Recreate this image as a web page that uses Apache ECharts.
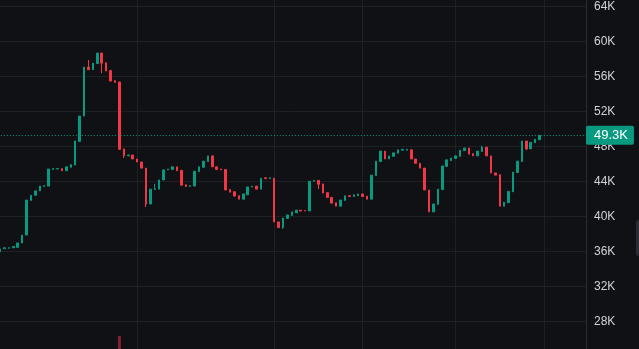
<!DOCTYPE html>
<html>
<head>
<meta charset="utf-8">
<style>
html,body{margin:0;padding:0;background:#101114;}
#chart{width:639px;height:349px;}
</style>
<script src="https://cdn.jsdelivr.net/npm/echarts@6/dist/echarts.min.js"></script>
</head>
<body>
<div id="chart"></div>
<script>
// Candles in thousands (K): open, close; optional low/high wicks listed separately
const opens = [
36.0,36.35,36.4,36.45,36.5,37.0,37.9,41.85,42.45,42.95,
43.45,43.5,45.4,45.45,45.5,45.25,45.65,45.9,48.6,51.5,
57.1,56.8,57.5,58.7,57.6,56.7,55.55,55.4,47.75,46.95,
47.05,46.6,46.25,45.55,41.45,43.1,43.15,44.2,45.35,45.4,
45.7,45.3,43.65,43.45,43.5,45.15,45.65,46.3,46.95,45.7,
45.45,45.4,43.1,42.85,42.4,42.0,42.5,43.4,43.5,43.15,
44.45,44.35,44.4,39.4,38.75,39.8,40.15,40.45,40.75,40.7,
40.65,44.05,44.15,43.75,42.75,42.2,41.6,41.2,41.85,42.4,
42.3,42.4,42.6,42.35,42.0,44.7,46.3,47.5,46.6,46.9,
47.25,47.6,47.6,47.65,46.6,46.1,45.55,43.05,40.55,41.4,
43.1,45.75,46.4,46.65,46.9,47.55,47.85,47.2,46.95,47.45,
47.95,46.95,45.0,44.8,41.2,41.6,42.85,45.05,46.3,48.65,
47.75,48.45,48.8];
const closes = [
36.3,36.45,36.45,36.6,37.0,37.9,41.9,42.45,42.95,43.5,
43.55,45.45,45.5,45.5,45.25,45.7,45.95,48.65,51.5,57.1,
56.8,57.55,58.7,57.55,56.65,55.5,55.35,47.7,46.95,47.05,
46.6,46.25,45.55,41.45,43.15,43.2,44.2,45.35,45.45,45.7,
45.25,43.6,43.45,43.55,45.2,45.7,46.35,46.95,45.7,45.4,
45.35,43.05,42.8,42.35,42.0,42.6,43.4,43.5,43.15,44.4,
44.35,44.45,39.4,38.75,39.85,40.2,40.55,40.75,40.65,40.65,
44.05,44.15,43.7,42.7,42.2,41.55,41.2,41.9,42.4,42.3,
42.5,42.6,42.3,42.0,44.75,46.35,47.5,46.6,46.95,47.3,
47.65,47.7,47.7,46.6,46.1,45.55,43.05,40.55,41.45,43.15,
45.8,46.5,46.7,46.95,47.6,47.85,47.15,46.95,47.5,47.95,
46.95,45.0,44.75,41.2,41.65,42.9,45.1,46.35,48.65,47.75,
48.5,48.85,49.3];
// visible wick extremes (candle index -> value)
const highs = {20:57.9, 35:43.75, 109:48.1};
const lows = {23:56.4, 28:46.7, 33:41.1, 64:38.6, 72:43.15, 119:47.6};
// only one volume bar reaches the visible area (index 27)
const volumes = {27:1};
const emptySlots = 10;
const categories = Array.from({length: opens.length + emptySlots}, (_, i) => 'D' + (i + 1));
const monthLines = [31, 62, 82, 103, 123];
const yTicks = {min: 24, max: 68, step: 4};
const lastPrice = 49.3;

const UP = '#089981', DOWN = '#f23645';
const candleData = opens.map((o, i) => {
  const c = closes[i];
  const lo = lows[i] !== undefined ? lows[i] : Math.min(o, c);
  const hi = highs[i] !== undefined ? highs[i] : Math.max(o, c);
  return [o, c, lo, hi];
});
const volData = categories.map((_, i) => volumes[i] !== undefined ? volumes[i] : null);

const chart = echarts.init(document.getElementById('chart'), null, {renderer: 'canvas'});
chart.setOption({
  backgroundColor: '#101114',
  animation: false,
  grid: {left: -2.2, right: 53, top: -28.3, bottom: -7.7, containLabel: false, outerBoundsMode: 'none'},
  xAxis: {
    type: 'category', data: categories, boundaryGap: true,
    axisLine: {show: false}, axisTick: {show: false}, axisLabel: {show: false},
    splitLine: {show: false}
  },
  yAxis: [{
    type: 'value', position: 'right', min: yTicks.min, max: yTicks.max, interval: yTicks.step,
    axisLine: {show: true, lineStyle: {color: '#2a2d33', width: 1}},
    axisTick: {show: false},
    axisLabel: {color: '#d1d4dc', fontSize: 12, fontFamily: 'Liberation Sans, Arial, sans-serif', margin: 8,
      formatter: v => v + 'K'},
    splitLine: {show: true, lineStyle: {color: '#1e2024', width: 1}}
  }, {
    type: 'value', show: false, min: 0, max: 18.6,
    axisLine: {show: false}, splitLine: {show: false}, axisLabel: {show: false}
  }],
  series: [{
    type: 'bar', yAxisIndex: 1, data: volData, barWidth: 3,
    itemStyle: {color: 'rgba(242,54,69,0.5)'}, silent: true,
    markLine: {
      silent: true, symbol: 'none', z: 1,
      label: {show: false},
      lineStyle: {color: '#1e2024', width: 1, type: 'solid'},
      emphasis: {disabled: true},
      data: monthLines.map(i => ({xAxis: categories[i]}))
    }
  }, {
    type: 'candlestick', data: candleData, barWidth: 2,
    itemStyle: {color: UP, color0: DOWN, borderColor: UP, borderColor0: DOWN, borderWidth: 1},
    markLine: {
      silent: true, symbol: 'none',
      lineStyle: {color: UP, width: 1, type: [1, 2]},
      label: {show: true, position: 'end', distance: 0, formatter: lastPrice.toFixed(1) + 'K',
        color: '#ffffff', backgroundColor: UP, fontSize: 13, lineHeight: 15,
        fontFamily: 'Liberation Sans, Arial, sans-serif', padding: [2, 6, 2, 8], borderRadius: 2},
      emphasis: {disabled: true},
      data: [{yAxis: lastPrice}]
    }
  }],
  graphic: [{
    type: 'rect', right: -3, top: 220, shape: {width: 6, height: 36, r: 3},
    style: {fill: '#2a2d33'}
  }]
});
</script>
</body>
</html>
